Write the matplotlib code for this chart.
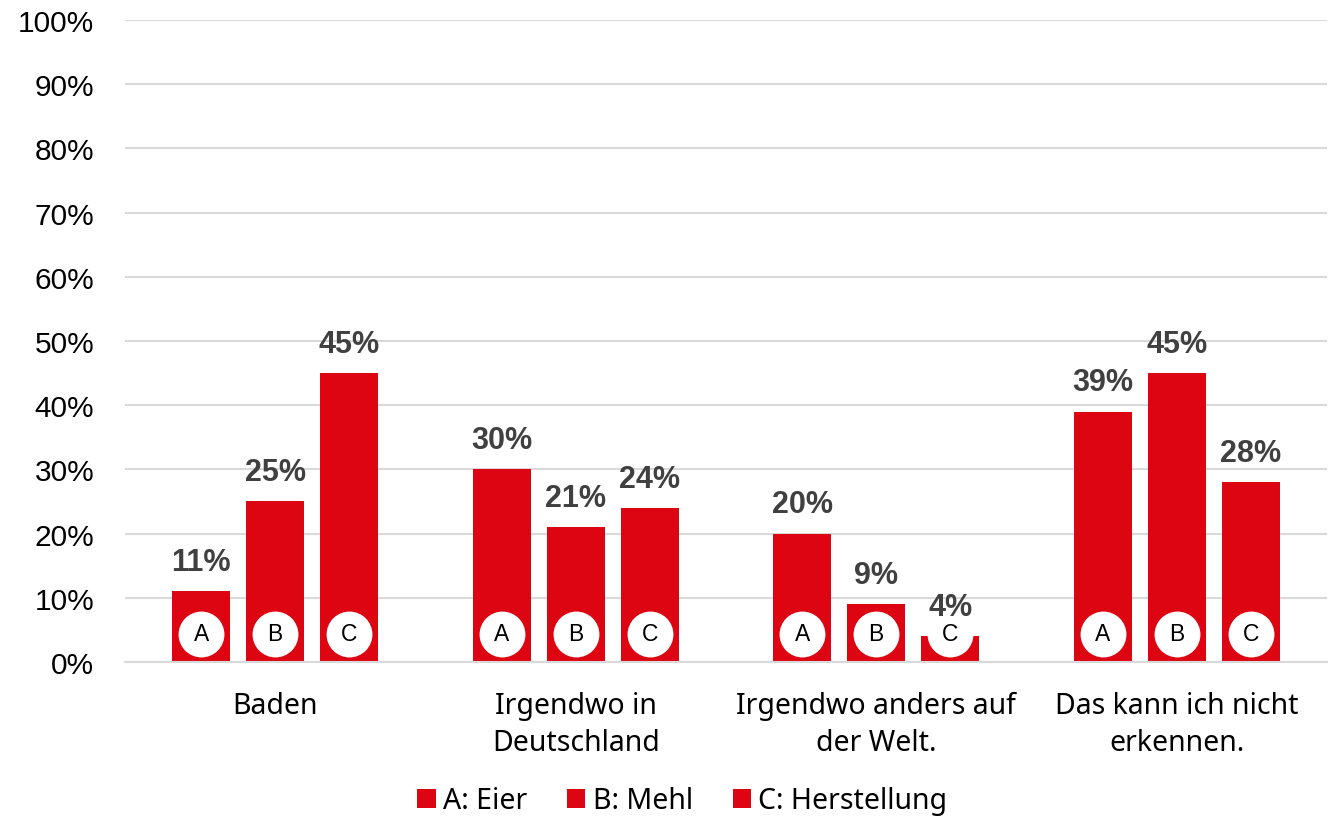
import matplotlib
matplotlib.use("Agg")
import matplotlib.pyplot as plt
from matplotlib.patches import Patch
import numpy as np

categories = ["Baden", "Irgendwo in\nDeutschland", "Irgendwo anders auf\nder Welt.", "Das kann ich nicht\nerkennen."]
series_names = ["A: Eier", "B: Mehl", "C: Herstellung"]
series_letters = ["A", "B", "C"]
values_a = [11, 30, 20, 39]
values_b = [25, 21, 9, 45]
values_c = [45, 24, 4, 28]
yticks = [0, 10, 20, 30, 40, 50, 60, 70, 80, 90, 100]

RED = "#DC0511"
LABEL = "#404040"
GRID = "#D9D9D9"
SANS = ["Liberation Sans", "DejaVu Sans"]
APT = ["Noto Sans", "DejaVu Sans"]

fig = plt.figure(figsize=(13.35, 8.2), dpi=100)
ax = fig.add_axes([0.0936, 0.1915, 0.9004, 0.7829])

x = np.arange(len(categories))
offsets = [-0.246, 0.0, 0.246]
width = 0.193
all_vals = [values_a, values_b, values_c]

for vals, off, letter in zip(all_vals, offsets, series_letters):
    ax.bar(x + off, vals, width=width, color=RED, zorder=2)
    ax.scatter(x + off, [4.4] * len(x), s=1090, color="white", zorder=3, linewidths=0)
    for xi, v in zip(x + off, vals):
        ax.text(xi, 4.4, letter, ha="center", va="center", fontsize=16.5,
                family=SANS, color="black", zorder=4)
        ax.text(xi, v + 2.2, f"{v}%", ha="center", va="bottom", fontsize=22,
                fontweight="bold", family=SANS, color=LABEL, zorder=4)

ax.set_xlim(-0.5, 3.5)
ax.set_ylim(0, 100)
ax.set_yticks(yticks)
ax.set_yticklabels([f"{t}%" for t in yticks], family=SANS, fontsize=21.5, color="black")
ax.yaxis.grid(True, color=GRID, linewidth=1.5, zorder=0)
ax.set_axisbelow(True)
ax.tick_params(axis="y", length=0, pad=22)
ax.set_xticks(x)
ax.set_xticklabels(categories, family=APT, fontsize=20.5, color="black", linespacing=1.35)
ax.tick_params(axis="x", length=0, pad=21)
for s in ["top", "right", "left"]:
    ax.spines[s].set_visible(False)
ax.spines["bottom"].set_color(GRID)
ax.spines["bottom"].set_linewidth(1.5)

handles = [Patch(facecolor=RED, edgecolor="none", label=n) for n in series_names]
fig.legend(handles=handles, loc="center", bbox_to_anchor=(0.511, 0.022), ncol=3,
           frameon=False, prop={"family": APT, "size": 20.5},
           handlelength=0.65, handleheight=0.65, handletextpad=0.25, columnspacing=1.4,
           borderpad=0.2)

fig.savefig("out.png", dpi=100)
